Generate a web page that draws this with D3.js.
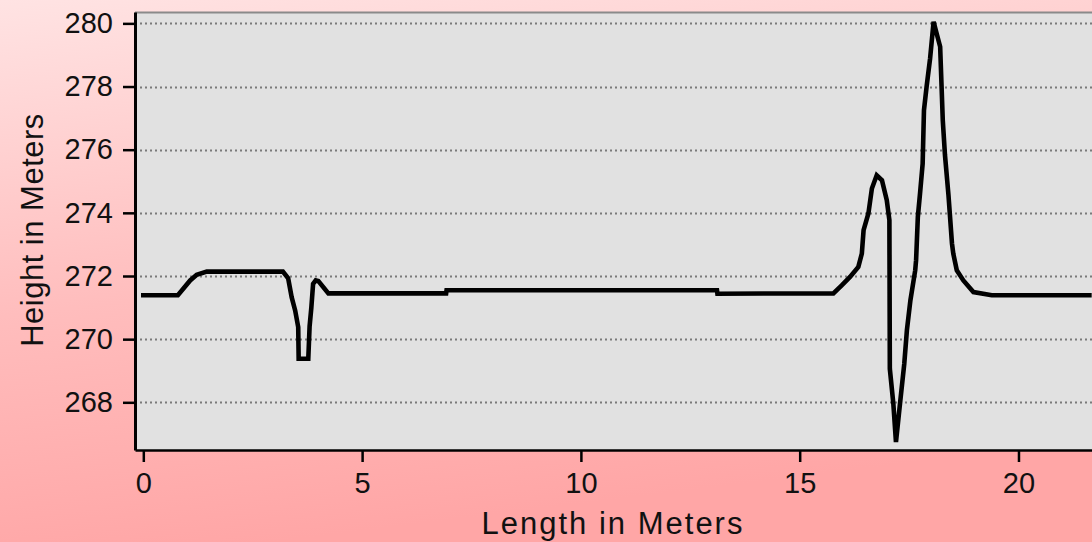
<!DOCTYPE html>
<html>
<head>
<meta charset="utf-8">
<script src="https://cdn.jsdelivr.net/npm/d3@7"></script>
<style>
  html, body { margin: 0; padding: 0; overflow: hidden; }
  svg { display: block; }
  text { font-family: "Liberation Sans", Arial, sans-serif; fill: #111; }
</style>
</head>
<body>
<svg id="chart" width="1092" height="542"></svg>
<script>
// Profile of the surveyed section: distance along the line and elevation.
const lengthM = [
  0, 0.79, 1.07, 1.22, 1.45, 3.19, 3.31, 3.39, 3.47, 3.54, 3.55, 3.77, 3.80, 3.84,
  3.88, 3.94, 4.00, 4.23, 6.92, 6.93, 13.11, 13.12, 15.77, 15.96, 16.15, 16.34,
  16.42, 16.46, 16.57, 16.65, 16.76, 16.88, 16.99, 17.05, 17.06, 17.14, 17.20,
  17.30, 17.39, 17.45, 17.53, 17.64, 17.66, 17.70, 17.75, 17.81, 17.84, 17.90,
  17.98, 18.06, 18.13, 18.21, 18.27, 18.32, 18.40, 18.48, 18.51, 18.59, 18.74,
  18.97, 19.39, 21.62
];
const heightM = [
  271.39, 271.39, 271.86, 272.04, 272.14, 272.14, 271.93, 271.33, 270.91, 270.38, 269.38, 269.38, 270.40, 271.00,
  271.75, 271.86, 271.84, 271.45, 271.45, 271.55, 271.55, 271.44, 271.45, 271.70, 271.97, 272.29,
  272.71, 273.45, 273.98, 274.77, 275.19, 275.03, 274.40, 273.77, 269.06, 267.96, 266.74,
  268.06, 269.22, 270.28, 271.23, 272.18, 272.50, 273.87, 274.61, 275.56, 277.25, 277.99,
  278.89, 280.05, 279.68, 279.26, 276.93, 275.83, 274.56, 273.03, 272.71, 272.18, 271.86,
  271.49, 271.39, 271.39
];
const xTicks = [0, 5, 10, 15, 20];
const yTicks = [268, 270, 272, 274, 276, 278, 280];
const xTitle = "Length in Meters";
const yTitle = "Height in Meters";

const W = 1092, H = 542;
const plot = { left: 135, top: 12, right: 1106, bottom: 450 };

const svg = d3.select("#chart");
const defs = svg.append("defs");
const grad = defs.append("linearGradient")
  .attr("id", "bg").attr("x1", "0").attr("y1", "0").attr("x2", "0.25").attr("y2", "1");
grad.append("stop").attr("offset", "0").attr("stop-color", "#ffe3e3");
grad.append("stop").attr("offset", "0.55").attr("stop-color", "#ffbdbd");
grad.append("stop").attr("offset", "1").attr("stop-color", "#ffa6a6");

svg.append("rect").attr("width", W).attr("height", H).attr("fill", "url(#bg)");

const x = d3.scaleLinear().domain([-0.19, 22]).range([plot.left, plot.right]);
const y = d3.scaleLinear().domain([266.49, 280.36]).range([plot.bottom, plot.top]);

// plot area
svg.append("rect")
  .attr("x", plot.left).attr("y", plot.top)
  .attr("width", plot.right - plot.left).attr("height", plot.bottom - plot.top)
  .attr("fill", "#e1e1e1");
svg.append("line")
  .attr("x1", plot.left).attr("x2", plot.right)
  .attr("y1", plot.top + 0.5).attr("y2", plot.top + 0.5)
  .attr("stroke", "#8a8a8a").attr("stroke-width", 2);

// dotted horizontal gridlines
svg.append("g").selectAll("line").data(yTicks).join("line")
  .attr("x1", plot.left).attr("x2", plot.right)
  .attr("y1", d => Math.round(y(d)) + 0.5).attr("y2", d => Math.round(y(d)) + 0.5)
  .attr("stroke", "#7a7a7a").attr("stroke-width", 2)
  .attr("stroke-dasharray", "2,3");

// profile line
const line = d3.line().x((d, i) => x(lengthM[i])).y(d => y(d));
svg.append("path")
  .datum(heightM)
  .attr("d", line)
  .attr("fill", "none")
  .attr("stroke", "#000")
  .attr("stroke-width", 4.6)
  .attr("stroke-linejoin", "miter")
  .attr("stroke-linecap", "square");

// axes
const yAxis = d3.axisLeft(y).tickValues(yTicks).tickSize(12).tickSizeOuter(0)
  .tickPadding(10).tickFormat(d3.format("d"));
const gy = svg.append("g").attr("transform", `translate(${plot.left},0)`).call(yAxis);
gy.select(".domain").attr("stroke", "#000").attr("stroke-width", 3);
gy.selectAll(".tick line").attr("stroke", "#000").attr("stroke-width", 2.5);
gy.selectAll(".tick text")
  .attr("font-size", 29).attr("fill", "#111")
  .style("font-family", "'Liberation Sans', Arial, sans-serif");

const xAxis = d3.axisBottom(x).tickValues(xTicks).tickSize(12).tickSizeOuter(0)
  .tickPadding(10).tickFormat(d3.format("d"));
const gx = svg.append("g").attr("transform", `translate(0,${plot.bottom})`).call(xAxis);
gx.select(".domain").attr("stroke", "#000").attr("stroke-width", 2.5);
gx.selectAll(".tick line").attr("stroke", "#000").attr("stroke-width", 2.5);
gx.selectAll(".tick text")
  .attr("font-size", 29).attr("fill", "#111")
  .style("font-family", "'Liberation Sans', Arial, sans-serif");

// titles
svg.append("text")
  .attr("x", 613).attr("y", 534)
  .attr("text-anchor", "middle")
  .attr("font-size", 31)
  .attr("letter-spacing", 2)
  .text(xTitle);
svg.append("text")
  .attr("transform", "translate(43,230) rotate(-90)")
  .attr("text-anchor", "middle")
  .attr("font-size", 31)
  .attr("letter-spacing", 0.5)
  .text(yTitle);
</script>
</body>
</html>
